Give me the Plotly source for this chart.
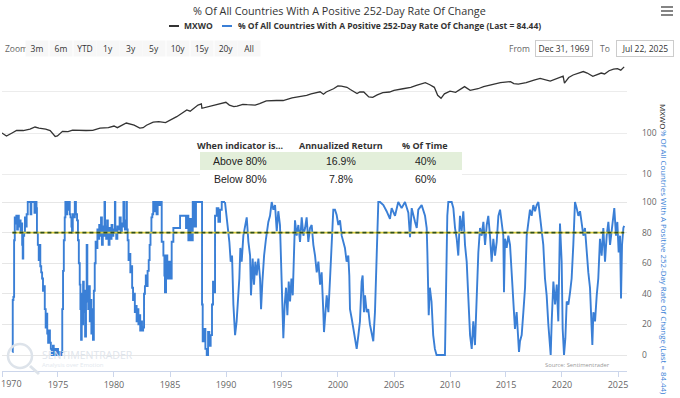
import plotly.graph_objects as go
import pandas as pd

# ---------------- data ----------------
mxwo = [
    (1969.99, 100), (1970.4, 84), (1970.9, 100), (1971.3, 115), (1971.9, 115), (1972.5, 125),
    (1972.95, 140), (1973.3, 132), (1973.9, 125), (1974.3, 115), (1974.75, 82), (1974.95, 85),
    (1975.4, 110), (1975.9, 108), (1976.3, 118), (1976.9, 115), (1977.5, 115), (1978.1, 116),
    (1978.75, 132), (1979.5, 135), (1980.0, 148), (1980.3, 135), (1980.9, 170), (1981.1, 175),
    (1981.8, 155), (1982.3, 132), (1982.6, 135), (1982.9, 155), (1983.5, 185), (1984.0, 190),
    (1984.6, 180), (1984.9, 200), (1985.6, 250), (1986.5, 364), (1986.8, 340), (1987.5, 480),
    (1987.8, 510), (1987.85, 400), (1988.0, 410), (1988.85, 455), (1989.5, 520), (1989.99, 560),
    (1990.3, 480), (1990.7, 440), (1991.0, 450), (1991.5, 500), (1991.9, 490), (1992.6, 480),
    (1993.0, 520), (1993.6, 610), (1994.5, 620), (1995.1, 620), (1995.9, 720), (1996.5, 760),
    (1997.2, 830), (1997.6, 900), (1998.4, 1010), (1998.7, 880), (1998.95, 1000), (1999.6, 1200),
    (1999.99, 1400), (2000.3, 1390), (2000.8, 1300), (2001.1, 1150), (2001.7, 920), (2001.95, 1000),
    (2002.3, 1000), (2002.75, 760), (2003.1, 740), (2003.5, 850), (2004.0, 970), (2004.6, 1000),
    (2005.0, 1100), (2005.8, 1200), (2006.5, 1300), (2007.0, 1450), (2007.8, 1680), (2008.2, 1500),
    (2008.6, 1300), (2008.9, 830), (2009.2, 700), (2009.5, 900), (2010.0, 1050), (2010.5, 980),
    (2011.3, 1350), (2011.8, 1100), (2012.5, 1200), (2013.0, 1350), (2013.85, 1560), (2014.5, 1700),
    (2015.4, 1790), (2015.7, 1600), (2016.1, 1550), (2016.8, 1700), (2017.5, 1950), (2018.05, 2150),
    (2018.95, 1850), (2019.5, 2150), (2020.1, 2430), (2020.22, 1650), (2020.6, 2250), (2020.99, 2600),
    (2021.9, 3150), (2022.25, 2900), (2022.75, 2400), (2023.5, 2900), (2023.8, 2750), (2024.2, 3300),
    (2024.6, 3600), (2024.95, 3700), (2025.25, 3400), (2025.55, 4100),
]

ind_1970s = [
    (1970.93, 2), (1970.96, 36), (1971.02, 38), (1971.08, 75), (1971.14, 90), (1971.2, 86), (1971.28, 91),
    (1971.35, 82), (1971.42, 91), (1971.5, 84), (1971.58, 88), (1971.66, 80), (1971.74, 86), (1971.8, 72),
    (1971.85, 63), (1971.9, 78), (1971.98, 80), (1972.05, 90), (1972.12, 84), (1972.2, 92), (1972.3, 100),
    (1972.45, 100), (1972.55, 92), (1972.62, 100), (1972.8, 100), (1972.9, 93), (1973.0, 100), (1973.08, 96),
    (1973.12, 80), (1973.2, 72), (1973.28, 62), (1973.35, 72), (1973.42, 58), (1973.5, 54), (1973.58, 50),
    (1973.66, 42), (1973.74, 45), (1973.82, 30), (1973.9, 18), (1973.96, 27), (1974.04, 14), (1974.12, 8),
    (1974.2, 16), (1974.28, 8), (1974.36, 4), (1974.44, 0), (1974.55, 6), (1974.62, 0), (1974.7, 4),
    (1974.8, 0), (1974.9, 4), (1975.0, 0), (1975.1, 2), (1975.2, 0), (1975.3, 2), (1975.38, 30),
    (1975.45, 55), (1975.52, 75), (1975.6, 90), (1975.66, 100), (1975.75, 92), (1975.82, 100), (1975.9, 95),
    (1975.98, 100), (1976.05, 92), (1976.12, 90), (1976.2, 84), (1976.25, 80), (1976.32, 92), (1976.4, 90),
    (1976.5, 100), (1976.6, 92), (1976.7, 88), (1976.78, 75), (1976.86, 60), (1976.94, 46), (1977.0, 30),
    (1977.06, 10), (1977.12, 40), (1977.18, 20), (1977.24, 48), (1977.3, 28), (1977.36, 42), (1977.42, 12),
    (1977.5, 35), (1977.56, 72), (1977.62, 40), (1977.7, 30), (1977.76, 45), (1977.84, 22), (1977.9, 36),
    (1977.98, 14), (1978.05, 30), (1978.12, 10), (1978.2, 42), (1978.28, 60), (1978.36, 74), (1978.44, 70),
    (1978.52, 82), (1978.6, 76), (1978.68, 85), (1978.76, 78), (1978.84, 90), (1978.92, 72), (1979.0, 84),
    (1979.08, 78), (1979.15, 100), (1979.2, 84), (1979.3, 76), (1979.38, 88), (1979.45, 82), (1979.52, 72),
    (1979.6, 83), (1979.7, 76), (1979.78, 85), (1979.86, 78), (1979.94, 82),
]

ind_1980s = [
    (1980.02, 80), (1980.08, 100), (1980.12, 82), (1980.2, 76), (1980.3, 84), (1980.4, 82), (1980.5, 90),
    (1980.6, 80), (1980.7, 86), (1980.78, 84), (1980.84, 100), (1980.9, 86), (1980.98, 82), (1981.05, 88),
    (1981.1, 100), (1981.15, 82), (1981.22, 75), (1981.3, 62), (1981.38, 66), (1981.46, 54), (1981.54, 58),
    (1981.62, 44), (1981.7, 36), (1981.78, 40), (1981.86, 28), (1981.94, 32), (1982.02, 22), (1982.1, 30),
    (1982.18, 20), (1982.26, 26), (1982.34, 16), (1982.42, 22), (1982.5, 16), (1982.6, 18), (1982.68, 40),
    (1982.76, 45), (1982.84, 52), (1982.92, 45), (1983.0, 55), (1983.1, 62), (1983.18, 72), (1983.26, 80),
    (1983.34, 90), (1983.42, 92), (1983.5, 100), (1983.6, 94), (1983.7, 100), (1983.8, 92), (1983.9, 100),
    (1984.0, 98), (1984.1, 100), (1984.26, 74), (1984.41, 65), (1984.5, 52), (1984.55, 41), (1984.65, 65),
    (1984.76, 50), (1984.88, 61), (1985.0, 50), (1985.15, 74), (1985.3, 83), (1985.6, 83), (1985.75, 83),
    (1985.9, 91), (1986.19, 91), (1986.43, 83), (1986.55, 91), (1986.64, 75), (1986.79, 89), (1986.94, 75),
    (1987.03, 100), (1987.18, 84), (1987.32, 100), (1987.8, 100), (1987.86, 33), (1987.92, 9), (1988.04, 17),
    (1988.16, 4), (1988.28, 0), (1988.4, 15), (1988.51, 6), (1988.63, 13), (1988.75, 33), (1988.84, 48),
    (1988.93, 41), (1989.02, 91), (1989.17, 96), (1989.32, 87), (1989.47, 95), (1989.62, 100), (1989.91, 100),
]

ind_1990s = [
    (1990.06, 91), (1990.21, 83), (1990.3, 74), (1990.42, 61), (1990.54, 65), (1990.66, 33), (1990.81, 13),
    (1990.95, 22), (1991.1, 39), (1991.19, 50), (1991.28, 70), (1991.4, 61), (1991.55, 78), (1991.7, 83),
    (1991.85, 90), (1992.0, 74), (1992.15, 65), (1992.23, 39), (1992.38, 63), (1992.5, 46), (1992.62, 61),
    (1992.74, 52), (1992.89, 63), (1993.04, 50), (1993.13, 30), (1993.25, 48), (1993.4, 65), (1993.57, 76),
    (1993.78, 87), (1993.93, 91), (1994.08, 100), (1994.23, 95), (1994.38, 98), (1994.53, 81), (1994.67, 94),
    (1994.82, 85), (1994.91, 61), (1995.0, 50), (1995.12, 11), (1995.24, 33), (1995.36, 44), (1995.48, 26),
    (1995.6, 48), (1995.72, 35), (1995.84, 50), (1995.96, 39), (1996.07, 74), (1996.16, 88), (1996.31, 78),
    (1996.46, 85), (1996.61, 74), (1996.76, 90), (1996.91, 78), (1997.06, 83), (1997.2, 90), (1997.35, 74),
    (1997.5, 83), (1997.65, 85), (1997.8, 72), (1997.95, 65), (1998.1, 54), (1998.25, 61), (1998.4, 46),
    (1998.54, 54), (1998.69, 28), (1998.75, 15), (1998.99, 39), (1999.14, 28), (1999.29, 50), (1999.43, 72),
    (1999.58, 95), (1999.73, 95), (1999.88, 91.5),
]

ind_2000s = [
    (2000.03, 85), (2000.18, 88), (2000.33, 78), (2000.47, 74), (2000.62, 70), (2000.77, 61), (2000.92, 65),
    (2001.01, 52), (2001.07, 30), (2001.22, 24), (2001.37, 17), (2001.52, 9), (2001.67, 4), (2001.82, 13),
    (2001.96, 22), (2002.11, 48), (2002.2, 52), (2002.32, 28), (2002.41, 39), (2002.56, 28), (2002.7, 30),
    (2002.85, 20), (2003.0, 13), (2003.15, 9), (2003.3, 28), (2003.45, 61), (2003.6, 100), (2003.75, 100),
    (2004.05, 98), (2004.34, 94), (2004.64, 89), (2004.79, 96), (2005.09, 91), (2005.38, 100), (2005.68, 96),
    (2005.98, 100), (2006.28, 93), (2006.43, 77), (2006.58, 96), (2006.88, 87), (2007.03, 83), (2007.17, 95),
    (2007.47, 98), (2007.77, 91), (2007.92, 83), (2007.98, 67), (2008.1, 26), (2008.2, 44), (2008.35, 35),
    (2008.5, 13), (2008.65, 4), (2008.8, 0), (2009.55, 0), (2009.64, 39), (2009.76, 91), (2009.85, 100),
]

ind_2010s = [
    (2010.15, 100), (2010.3, 96), (2010.45, 83), (2010.6, 76), (2010.74, 65), (2010.89, 91), (2011.04, 81),
    (2011.19, 94), (2011.34, 72), (2011.49, 61), (2011.64, 33), (2011.79, 13), (2011.94, 4), (2012.08, 22),
    (2012.23, 6.5), (2012.38, 39), (2012.53, 67), (2012.68, 83), (2012.83, 78), (2012.98, 87), (2013.13, 72),
    (2013.28, 85), (2013.42, 91), (2013.57, 78), (2013.72, 61), (2013.87, 76), (2014.02, 65), (2014.17, 74),
    (2014.32, 91), (2014.47, 95), (2014.61, 87), (2014.76, 78), (2014.82, 41), (2014.91, 76), (2015.06, 70),
    (2015.21, 78), (2015.36, 72), (2015.51, 52), (2015.66, 39), (2015.8, 17), (2015.95, 28), (2016.1, 9),
    (2016.16, 2), (2016.25, 9), (2016.4, 13), (2016.55, 28), (2016.7, 44), (2016.85, 78), (2017.0, 89),
    (2017.14, 95), (2017.29, 91), (2017.44, 98), (2017.59, 94), (2017.74, 98), (2017.89, 100), (2018.04, 91),
    (2018.19, 81), (2018.33, 72), (2018.48, 50), (2018.63, 39), (2018.78, 20), (2018.93, 9), (2018.99, 0),
    (2019.08, 22), (2019.23, 48), (2019.38, 33), (2019.53, 46), (2019.67, 22), (2019.82, 86), (2019.97, 61),
]

ind_2020s = [
    (2020.06, 17), (2020.18, 0), (2020.3, 11), (2020.42, 35), (2020.57, 33), (2020.72, 41), (2020.86, 50),
    (2021.01, 72), (2021.16, 100), (2021.31, 96), (2021.46, 91), (2021.61, 94), (2021.76, 87), (2021.91, 78),
    (2022.05, 83), (2022.2, 67), (2022.35, 54), (2022.5, 44), (2022.65, 17), (2022.71, 6.5), (2022.8, 28),
    (2022.95, 22), (2023.1, 39), (2023.24, 50), (2023.39, 76), (2023.54, 65), (2023.69, 83), (2023.84, 61),
    (2023.99, 78), (2024.14, 87), (2024.29, 72), (2024.44, 83), (2024.58, 91), (2024.67, 96), (2024.82, 78),
    (2024.94, 87), (2025.06, 67), (2025.18, 78), (2025.27, 37), (2025.36, 72), (2025.48, 83), (2025.55, 84.44),
]

threshold = 80
x_tick_years = [1970, 1975, 1980, 1985, 1990, 1995, 2000, 2005, 2010, 2015, 2020, 2025]
ind_ticks = [0, 20, 40, 60, 80, 100]
mxwo_ticks = [10, 100, 1000]
mxwo_ticktext = ["10", "100", ""]

table_header = ["When indicator is...", "Annualized Return", "% Of Time"]
table_rows = [["Above 80%", "16.9%", "40%"], ["Below 80%", "7.8%", "60%"]]

zoom_buttons = ["3m", "6m", "YTD", "1y", "3y", "5y", "10y", "15y", "20y", "All"]
date_from, date_to = "Dec 31, 1969", "Jul 22, 2025"

title_text = "% Of All Countries With A Positive 252-Day Rate Of Change"
series_name = "% Of All Countries With A Positive 252-Day Rate Of Change (Last = 84.44)"

# ---------------- helpers ----------------
def to_date(y):
    return pd.Timestamp("1970-01-01") + pd.to_timedelta((y - 1970) * 365.25, unit="D")

W, H = 680, 398
L_PX, R_PX, T_PX, B_PX = 2, 627, 55, 371
PX_PER_YEAR = 11.2

def px(x):
    return (x - L_PX) / (R_PX - L_PX)

def py(y):
    return (B_PX - y) / (B_PX - T_PX)

BLUE = "#3a7fd6"
FONT = "Open Sans"

early = ind_1970s + ind_1980s
late = [ind_1980s[-1]] + ind_1990s + ind_2000s + ind_2010s + ind_2020s

fig = go.Figure()
fig.add_trace(go.Scatter(
    x=[to_date(a) for a, _ in mxwo], y=[b for _, b in mxwo],
    xaxis="x2", yaxis="y", mode="lines", line=dict(color="#333333", width=1.3),
    hoverinfo="skip", showlegend=False))
fig.add_trace(go.Scatter(
    x=[to_date(a) for a, _ in early], y=[b for _, b in early],
    xaxis="x", yaxis="y2", mode="lines", line=dict(color=BLUE, width=1.9, shape="hv"),
    hoverinfo="skip", showlegend=False))
fig.add_trace(go.Scatter(
    x=[to_date(a) for a, _ in late], y=[b for _, b in late],
    xaxis="x", yaxis="y2", mode="lines", line=dict(color=BLUE, width=1.9),
    hoverinfo="skip", showlegend=False))

x_end = to_date(1970 + (R_PX - L_PX) / PX_PER_YEAR)
tickdates = [pd.Timestamp(f"{y}-01-01") for y in x_tick_years]

shapes = []
annotations = []

# threshold dashed line
first_date = to_date(ind_1970s[0][0])
last_date = to_date(ind_2020s[-1][0])
shapes.append(dict(type="line", xref="x", yref="y2", x0=first_date, x1=last_date,
                   y0=threshold, y1=threshold, line=dict(color="#d8cc3c", width=1.6), layer="above"))
shapes.append(dict(type="line", xref="x", yref="y2", x0=first_date, x1=last_date,
                   y0=threshold, y1=threshold, line=dict(color="#2f4f1f", width=1.6, dash="4px,3px"),
                   layer="above"))

# table
shapes.append(dict(type="rect", xref="paper", yref="paper", x0=px(200), x1=px(462), y0=py(188), y1=py(137),
                   fillcolor="white", line=dict(width=0), layer="above"))
shapes.append(dict(type="rect", xref="paper", yref="paper", x0=px(200), x1=px(462), y0=py(170), y1=py(152),
                   fillcolor="#e3efda", line=dict(width=0), layer="above"))
col_x = [240, 341, 425]
for cx, t in zip(col_x, table_header):
    annotations.append(dict(x=px(cx), y=py(145), text=f"<b>{t}</b>", font=dict(size=9, color="#333", family=FONT)))
for ry, row in zip([161, 179], table_rows):
    for cx, t in zip(col_x, row):
        annotations.append(dict(x=px(cx), y=py(ry), text=t,
                                font=dict(size=10.5, color="#222", family="Liberation Sans, Arial")))

# title + legend
annotations.append(dict(x=px(340), y=py(11), text=title_text,
                        font=dict(size=10.8, color="#333", family=FONT)))
shapes.append(dict(type="line", xref="paper", yref="paper", x0=px(169), x1=px(179), y0=py(26), y1=py(26),
                   line=dict(color="#333", width=2)))
annotations.append(dict(x=px(182), y=py(26), xanchor="left", text="<b>MXWO</b>",
                        font=dict(size=8.5, color="#333", family=FONT)))
shapes.append(dict(type="line", xref="paper", yref="paper", x0=px(222), x1=px(232), y0=py(26), y1=py(26),
                   line=dict(color=BLUE, width=2)))
annotations.append(dict(x=px(236), y=py(26), xanchor="left", text=f"<b>{series_name}</b>",
                        font=dict(size=8.5, color="#333", family=FONT)))

# hamburger menu
for yy in [7, 11, 15]:
    shapes.append(dict(type="line", xref="paper", yref="paper", x0=px(661), x1=px(673), y0=py(yy), y1=py(yy),
                       line=dict(color="#666", width=1.6)))

# range selector row
annotations.append(dict(x=px(3), y=py(48), xanchor="left", text="Zoom",
                        font=dict(size=8.5, color="#666", family=FONT)))
btn_x = [37, 61, 85, 108, 131, 154, 178, 202, 226, 249]
for bx, b in zip(btn_x, zoom_buttons):
    annotations.append(dict(x=px(bx), y=py(48), text=b, bgcolor="#f7f7f7", width=20, height=13,
                            font=dict(size=8.5, color="#333", family=FONT)))
annotations.append(dict(x=px(519), y=py(48), text="From", font=dict(size=8.5, color="#666", family=FONT)))
annotations.append(dict(x=px(564), y=py(48), text=date_from, bgcolor="white", bordercolor="#cccccc",
                        borderwidth=1, width=54, height=13, font=dict(size=8.5, color="#333", family=FONT)))
annotations.append(dict(x=px(605), y=py(48), text="To", font=dict(size=8.5, color="#666", family=FONT)))
annotations.append(dict(x=px(645), y=py(48), text=date_to, bgcolor="white", bordercolor="#cccccc",
                        borderwidth=1, width=54, height=13, font=dict(size=8.5, color="#333", family=FONT)))

# axis titles (right side, rotated)
annotations.append(dict(x=px(664), y=py(116), text="MXWO", textangle=90,
                        font=dict(size=8, color="#222", family=FONT)))
annotations.append(dict(x=px(664), y=py(262), text=series_name, textangle=90,
                        font=dict(size=7.9, color=BLUE, family=FONT)))

# first x label (shifted inside like the reference)
annotations.append(dict(x=px(11), y=py(383), text="1970", font=dict(size=9, color="#666", family=FONT)))

# watermark + source
shapes.append(dict(type="circle", xref="paper", yref="paper", x0=px(8), x1=px(32), y0=py(368), y1=py(344),
                   line=dict(color="#dde3ea", width=2.5)))
shapes.append(dict(type="line", xref="paper", yref="paper", x0=px(30), x1=px(39), y0=py(366), y1=py(374),
                   line=dict(color="#dde3ea", width=3)))
annotations.append(dict(x=px(40), y=py(355), xanchor="left", text="SENTIMENTRADER",
                        font=dict(size=10.5, color="#dfe5ec", family=FONT)))
annotations.append(dict(x=px(40), y=py(365), xanchor="left", text="Analysis over Emotion",
                        font=dict(size=6, color="#e3e8ee", family=FONT)))
annotations.append(dict(x=px(577), y=py(365), text="Source: Sentimentrader",
                        font=dict(size=5.8, color="#999", family=FONT)))

for a in annotations:
    a.setdefault("xref", "paper")
    a.setdefault("yref", "paper")
    a.setdefault("xanchor", "center")
    a.setdefault("yanchor", "middle")
    a.setdefault("showarrow", False)

fig.update_layout(
    width=W, height=H,
    margin=dict(l=L_PX, r=W - R_PX, t=T_PX, b=H - B_PX, autoexpand=False),
    paper_bgcolor="white", plot_bgcolor="white",
    showlegend=False,
    font=dict(family=FONT, size=9, color="#666"),
    xaxis=dict(domain=[0, 1], anchor="y2", type="date", range=[to_date(1970.0), x_end],
               tickvals=tickdates, ticktext=[""] + [str(y) for y in x_tick_years[1:]],
               showline=True, linecolor="#ccd6eb", linewidth=1, ticks="outside", ticklen=5,
               tickcolor="#ccd6eb", tickfont=dict(size=9, color="#666"), showgrid=False, zeroline=False,
               automargin=False),
    xaxis2=dict(domain=[0, 1], anchor="y", matches="x", visible=False),
    yaxis=dict(domain=[py(190), 1], anchor="x2", type="log", range=[0.61, 3.902], side="right",
               tickvals=mxwo_ticks, ticktext=mxwo_ticktext, showgrid=True, gridcolor="#ececec",
               ticks="", ticklabelstandoff=14, tickfont=dict(size=8.5, color="#666"), zeroline=False,
               automargin=False),
    yaxis2=dict(domain=[0, py(195)], anchor="x", range=[-10.46, 104.6], side="right",
                tickvals=ind_ticks, showgrid=True, gridcolor="#e6e6e6", ticks="",
                ticklabelstandoff=14, tickfont=dict(size=8.5, color="#666"), zeroline=False,
                automargin=False),
    shapes=shapes, annotations=annotations,
)

fig.write_html("out.html", config={"displayModeBar": False},
               post_script="document.body.style.margin='0';")
